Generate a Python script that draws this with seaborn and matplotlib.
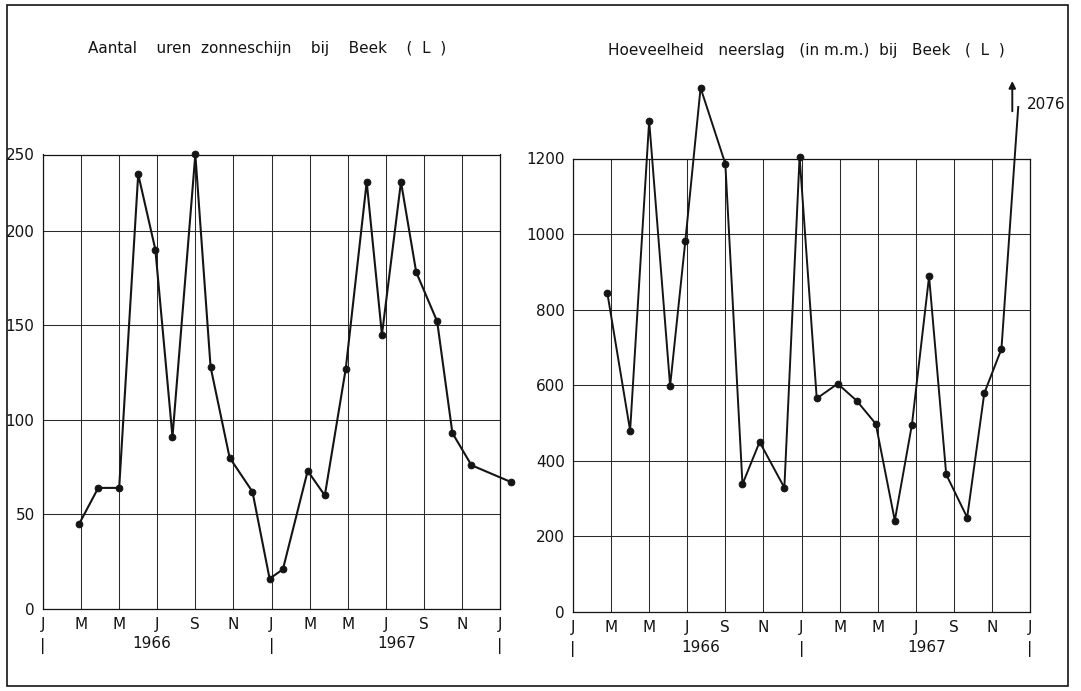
import numpy as np
import matplotlib
matplotlib.use("Agg")
import matplotlib.pyplot as plt
import matplotlib.transforms as mtransforms
from matplotlib.path import Path
from matplotlib.patches import Rectangle
import pandas as pd
import seaborn as sns

# ---------------- data ----------------
month_labels = ["J", "M", "M", "J", "S", "N", "J", "M", "M", "J", "S", "N", "J"]
year_labels = ["1966", "1967"]
sun_title = "Aantal    uren  zonneschijn    bij    Beek    (  L  )"
rain_title = "Hoeveelheid   neerslag   (in m.m.)  bij   Beek   (  L  )"

# month position (0 = start of Jan 1966) and monthly sunshine hours
sun_x = [1.9, 2.9, 4.0, 5.0, 5.9, 6.8, 8.0, 8.8, 9.8, 11.0, 11.9, 12.6,
         13.9, 14.8, 15.9, 17.0, 17.8, 18.8, 19.6, 20.7, 21.5, 22.5, 24.6]
sun_hours = [45, 64, 64, 237, 190, 91, 250, 128, 80, 62, 16, 21,
             73, 60, 127, 232, 145, 232, 178, 152, 93, 76, 67]

# month position and precipitation (as labelled "in m.m.")
rain_x = [1.8, 3.0, 4.0, 5.1, 5.9, 6.7, 8.0, 8.9, 9.8, 11.1, 11.9, 12.8,
          13.9, 14.9, 15.9, 16.9, 17.8, 18.7, 19.6, 20.7, 21.6, 22.5, 24.4]
rain_mm = [845, 480, 1300, 598, 982, 1387, 1186, 338, 450, 329, 1205, 565,
           604, 559, 498, 242, 496, 888, 364, 250, 579, 696, 2076]

sun_yticks = [0, 50, 100, 150, 200, 250]
rain_yticks = [0, 200, 400, 600, 800, 1000, 1200]

# ---------------- style ----------------
sns.set_style("white")
plt.rcParams["font.family"] = ["DejaVu Sans"]
INK = "#141414"
GRID = "#2a2a2a"

W, H = 1081, 691
fig = plt.figure(figsize=(W / 100, H / 100), dpi=100)
fig.patch.set_facecolor("white")


def box(l, t, r, b):
    return [l / W, 1 - b / H, (r - l) / W, (b - t) / H]


ax1 = fig.add_axes(box(43, 154.5, 500, 609))
ax2 = fig.add_axes(box(573, 158.5, 1030, 612))


# hand-drawn chart: the top band (200-250) is drawn narrower
def _fwd(v):
    v = np.asarray(v, dtype=float)
    return np.where(v <= 200, v * 1.89, 378 + (v - 200) * 1.52)


def _inv(p):
    p = np.asarray(p, dtype=float)
    return np.where(p <= 378, p / 1.89, 200 + (p - 378) / 1.52)


ax1.set_yscale("function", functions=(_fwd, _inv))


def style(ax, yticks, year_pos):
    ax.set_xlim(0, 24)
    ax.set_ylim(yticks[0], yticks[-1])
    ax.set_xticks(range(0, 25, 2))
    ax.set_xticklabels(month_labels)
    ax.set_yticks(yticks)
    ax.set_yticklabels([str(t) for t in yticks])
    ax.minorticks_off()
    ax.grid(True, color=GRID, lw=0.75)
    ax.set_axisbelow(True)
    for s in ax.spines.values():
        s.set_visible(True)
        s.set_color(INK)
        s.set_linewidth(0.9)
    ax.tick_params(axis="x", direction="out", length=4, width=0.9, pad=2,
                   labelsize=11, colors=INK)
    ax.tick_params(axis="y", direction="out", length=5, width=0.9, pad=1,
                   labelsize=11, colors=INK)
    ax.set_xlabel("")
    ax.set_ylabel("")
    trans = mtransforms.blended_transform_factory(ax.transData, ax.transAxes)
    for m in (0, 12, 24):
        ax.annotate("|", xy=(m, 0), xycoords=trans, xytext=(0, -37),
                    textcoords="offset pixels", ha="center", va="center",
                    fontsize=11.5, color=INK, annotation_clip=False)
    for yp, lab in zip(year_pos, year_labels):
        ax.annotate(lab, xy=(yp, 0), xycoords=trans, xytext=(0, -35),
                    textcoords="offset pixels", ha="center", va="center",
                    fontsize=11, color=INK, annotation_clip=False)


style(ax1, sun_yticks, [5.7, 18.6])
style(ax2, rain_yticks, [6.7, 18.6])

# ---------------- data lines ----------------
df_sun = pd.DataFrame({"month": sun_x, "hours": sun_hours})
df_rain = pd.DataFrame({"month": rain_x, "mm": rain_mm})

sns.lineplot(data=df_sun, x="month", y="hours", ax=ax1, color=INK, lw=1.5,
             marker="o", markersize=4.8, markeredgecolor=INK, sort=False)
ln1 = ax1.get_lines()[-1]
ln1.set_clip_on(False)

sns.lineplot(data=df_rain, x="month", y="mm", ax=ax2, color=INK, lw=1.4,
             marker="o", markersize=4.8, markeredgecolor=INK, sort=False)
ln2 = ax2.get_lines()[-1]
clip_poly = Path([(-1, -80), (26, -80), (26, 1338), (23.0, 1338),
                  (23.0, 1450), (-1, 1450), (-1, -80)], closed=True)
ln2.set_clip_box(None)
ln2.set_clip_path(clip_poly, transform=ax2.transData)

for ax in (ax1, ax2):
    ax.set_xlabel("")
    ax.set_ylabel("")
    leg = ax.get_legend()
    if leg is not None:
        leg.remove()

# off-scale value: arrow and label
ax2.annotate("", xy=(23.07, 1405), xytext=(23.07, 1325),
             arrowprops=dict(arrowstyle="-|>", color=INK, lw=1.4,
                             mutation_scale=10, shrinkA=0, shrinkB=0),
             annotation_clip=False)
ax2.text(23.85, 1342, str(rain_mm[-1]), ha="left", va="center",
         fontsize=11, color=INK, clip_on=False)

# ---------------- titles ----------------
fig.text(267 / W, 1 - 48 / H, sun_title, ha="center", va="center",
         fontsize=11, color=INK)
fig.text(806 / W, 1 - 51 / H, rain_title, ha="center", va="center",
         fontsize=11, color=INK)

# page frame
fig.patches.append(Rectangle((7 / W, 1 - 686 / H), (1068 - 7) / W, (686 - 5) / H,
                             transform=fig.transFigure, fill=False,
                             edgecolor=INK, lw=1.2))

fig.savefig("out.png", dpi=100, facecolor="white")
